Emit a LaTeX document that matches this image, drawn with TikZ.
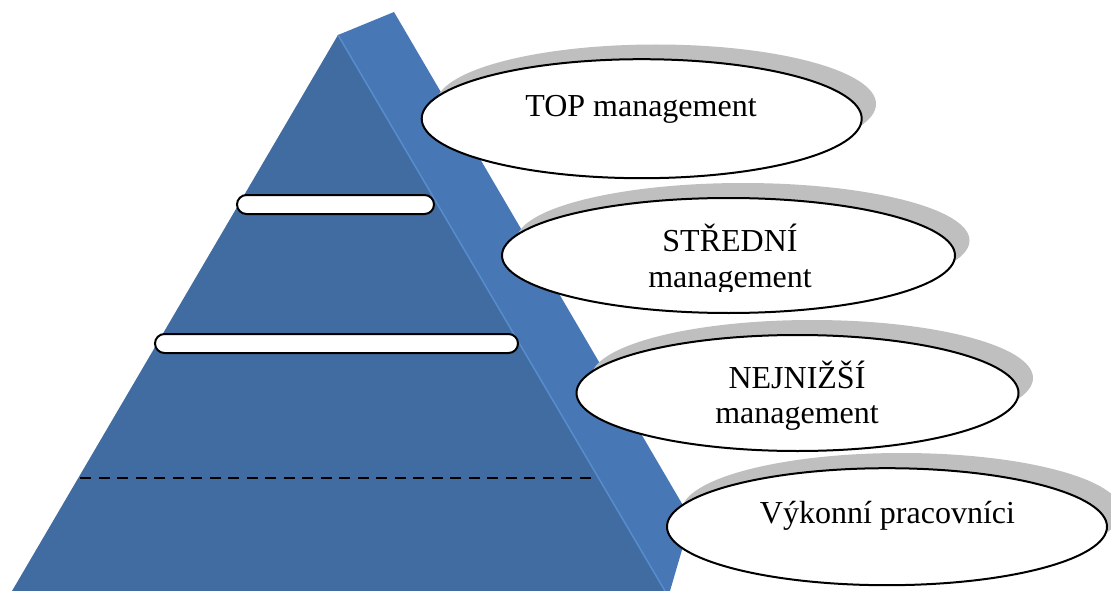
\documentclass[tikz,border=0pt]{standalone}
\usepackage{fontspec}
\setmainfont{Liberation Serif}
\usetikzlibrary{shapes.geometric}
\definecolor{frontblue}{RGB}{65,108,162}
\definecolor{sideblue}{RGB}{71,120,181}
\definecolor{edgeblue}{RGB}{88,140,205}
\definecolor{shadowgray}{RGB}{191,191,191}
\tikzset{
  bubble/.style={ellipse, draw=black, line width=2pt, fill=white, inner sep=0pt},
  bubbleshadow/.style={ellipse, fill=shadowgray, inner sep=0pt},
  bar/.style={draw=black, line width=2pt, fill=white, rounded corners=9.5pt, inner sep=0pt, minimum height=19pt},
  label/.style={font=\fontsize{32}{35.5}\selectfont, align=center, inner sep=0pt},
  levelline/.style={draw=black, line width=2.8pt, dash pattern=on 11pt off 7.5pt}
}
\begin{document}
\begin{tikzpicture}[x=1pt,y=-1pt]
\useasboundingbox (0,0) rectangle (1111,591);
% pyramid
\coordinate (apex) at (338,35);
\coordinate (top) at (394,12);
\coordinate (sidecorner) at (691,519);
\coordinate (sidebase) at (670,591);
\coordinate (baseR) at (665,591);
\coordinate (baseL) at (12,591);
\fill[frontblue] (apex) -- (baseR) -- (baseL) -- cycle;
\fill[sideblue] (apex) -- (top) -- (sidecorner) -- (sidebase) -- (baseR) -- cycle;
\draw[edgeblue, line width=1.5pt] (apex) -- (baseR);
% bars
\node[bar, minimum width=197pt] (bar1) at (335.5,204.5) {};
\node[bar, minimum width=363pt] (bar2) at (336.5,343.5) {};
% dashed line
\coordinate (dL) at (80,478);
\coordinate (dR) at (596,478);
\draw[levelline] (dL) -- (dR);
% ellipse 1
\node[bubbleshadow, minimum width=440pt, minimum height=119pt] (s1) at (656,104) {};
\node[bubble, minimum width=440pt, minimum height=119pt] (e1) at (641.7,118.7) {};
\node[label, anchor=base] (t1) at (641,116.7) {TOP management};
% ellipse 2
\node[bubbleshadow, minimum width=453pt, minimum height=115pt] (s2) at (743,240.5) {};
\node[bubble, minimum width=453pt, minimum height=115pt] (e2) at (728.5,255.5) {};
\begin{scope}
\clip (500,190) rectangle (960,291);
\node[label, anchor=base] (t2) at (730,287) {STŘEDNÍ\\management};
\end{scope}
% ellipse 3
\node[bubbleshadow, minimum width=442pt, minimum height=116pt] (s3) at (812,378) {};
\node[bubble, minimum width=442pt, minimum height=116pt] (e3) at (797.5,393) {};
\begin{scope}
\clip (570,330) rectangle (1030,429);
\node[label, anchor=base] (t3) at (797,423.5) {NEJNIŽŠÍ\\management};
\end{scope}
% ellipse 4
\node[bubbleshadow, minimum width=440pt, minimum height=117pt] (s4) at (901.5,511.5) {};
\node[bubble, minimum width=440pt, minimum height=117pt] (e4) at (887,526.7) {};
\node[label, anchor=base] (t4) at (887.5,523.3) {Výkonní pracovníci};
\end{tikzpicture}
\end{document}
